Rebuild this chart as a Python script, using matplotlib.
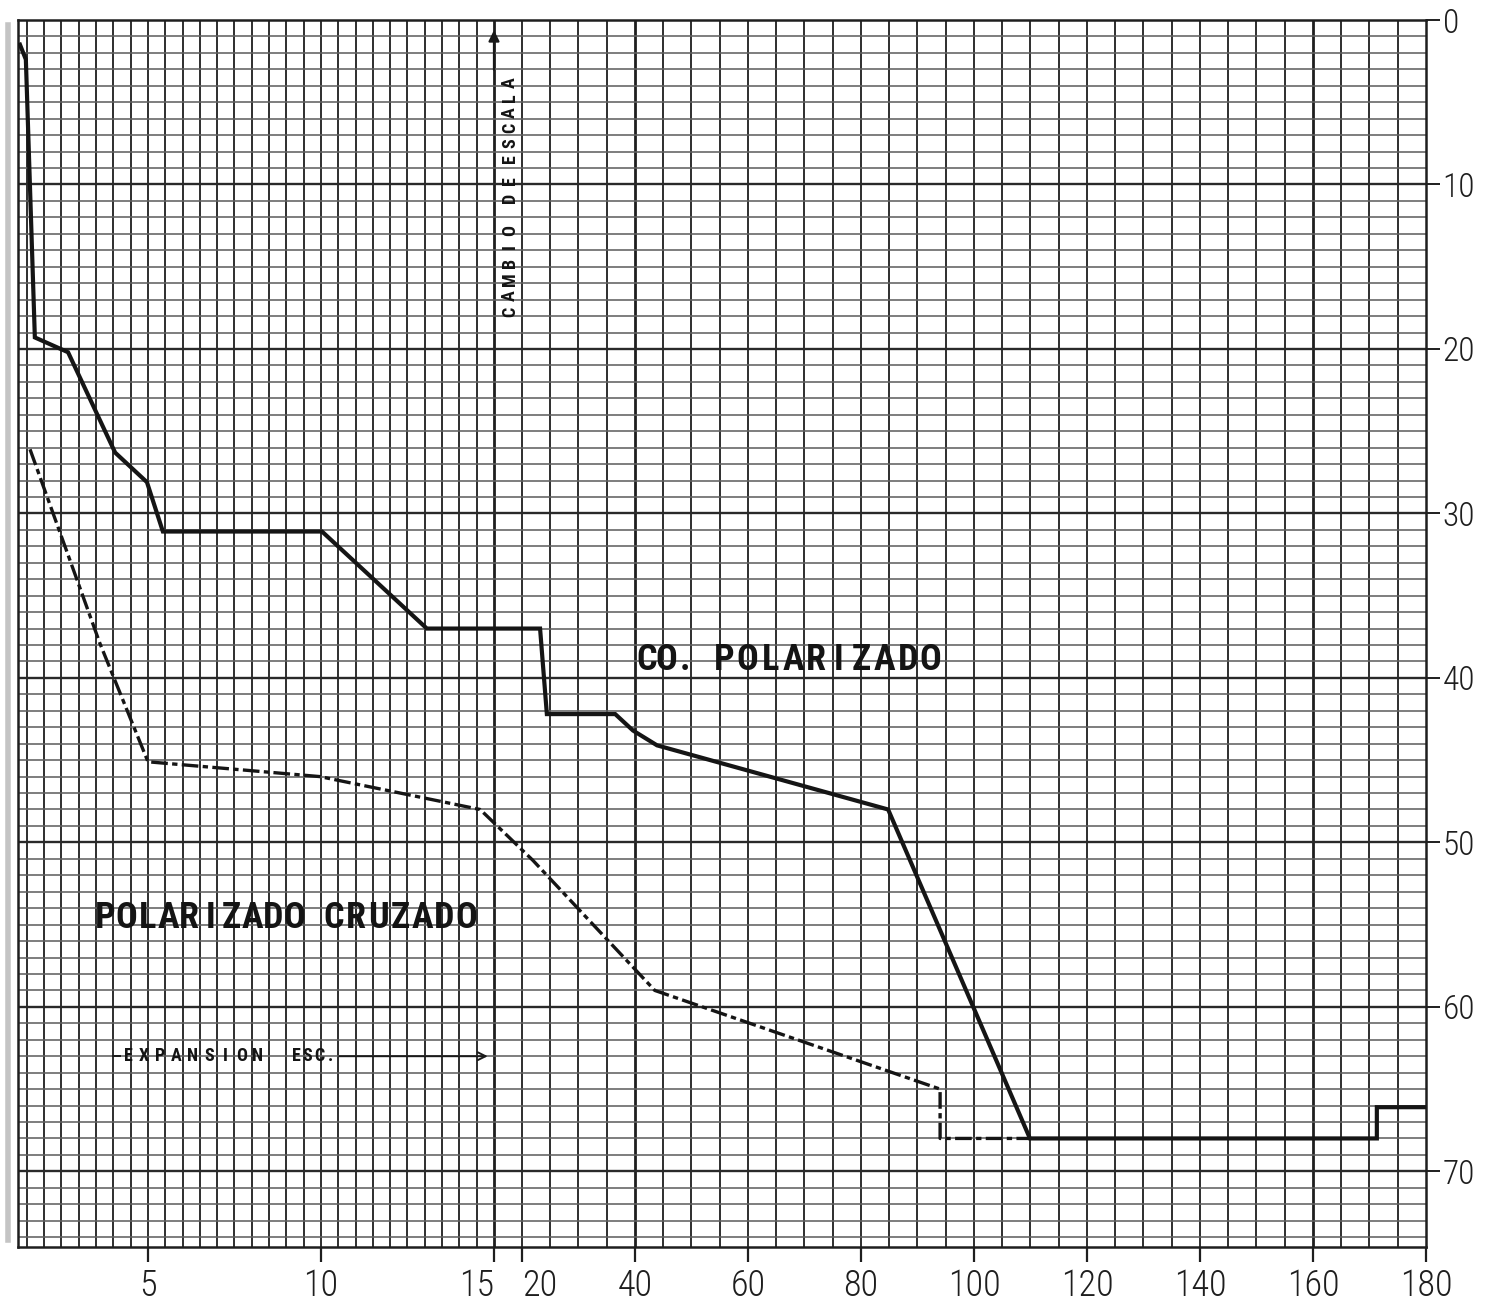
import numpy as np
import matplotlib
matplotlib.use("Agg")
import matplotlib.pyplot as plt
from matplotlib import font_manager
from matplotlib.transforms import offset_copy
from matplotlib.lines import Line2D

# ---------------------------------------------------------------- data
# Co-polarised pattern (dB below peak) vs. position
co_x = [1.30, 1.47, 1.73, 2.69, 4.05, 4.97, 5.43, 10.03, 13.06, 23.2, 24.4,
        36.5, 39.65, 43.9, 84.8, 109.9, 171.3, 171.3, 180.0]
co_y = [1.5, 2.4, 19.3, 20.2, 26.3, 28.1, 31.1, 31.1, 37.0, 37.0, 42.2,
        42.2, 43.2, 44.1, 48.0, 68.0, 68.0, 66.1, 66.1]

# Cross-polarised pattern
cx_x = [1.59, 3.61, 5.0, 9.97, 14.6, 21.95, 43.5, 94.0, 94.0, 109.9]
cx_y = [26.1, 37.9, 45.1, 46.0, 48.0, 51.1, 59.0, 65.0, 68.0, 68.0]

x_ticks = [5, 10, 15, 20, 40, 60, 80, 100, 120, 140, 160, 180]
x_ticklabels = ["5", "10", "15", "20", "40", "60", "80", "100", "120",
                "140", "160", "180"]
y_ticks = [0, 10, 20, 30, 40, 50, 60, 70]
y_ticklabels = ["0", "10", "20", "30", "40", "50", "60", "70"]

# ------------------------------------------------- broken x scale
# expanded scale up to 15, compressed scale from 20 on
BRK_LO, BRK_HI = 15.0, 20.0
K_LO, K_GAP, K_HI = 34.6, 5.6, 5.65
U_LO = BRK_LO * K_LO
U_HI = U_LO + (BRK_HI - BRK_LO) * K_GAP


def fwd(x):
    x = np.asarray(x, dtype=float)
    return np.where(x <= BRK_LO, x * K_LO,
                    np.where(x <= BRK_HI, U_LO + (x - BRK_LO) * K_GAP,
                             U_HI + (x - BRK_HI) * K_HI))


def inv(u):
    u = np.asarray(u, dtype=float)
    return np.where(u <= U_LO, u / K_LO,
                    np.where(u <= U_HI, BRK_LO + (u - U_LO) / K_GAP,
                             BRK_HI + (u - U_HI) / K_HI))


names = {f.name for f in font_manager.fontManager.ttflist}
FONT = "DejaVu Sans"
for cand in ["Liberation Sans Narrow", "Roboto Condensed", "Roboto",
             "Liberation Sans"]:
    if cand in names:
        FONT = cand
        break

W, H = 1488, 1302
fig = plt.figure(figsize=(W / 100, H / 100), dpi=100)
fig.patch.set_facecolor("white")
ax = fig.add_axes([18 / W, 1 - 1247 / H, 1408 / W, 1227 / H])
ax.set_xscale("function", functions=(fwd, inv))
ax.set_xlim(1.243, 180)
ax.set_ylim(74.6, 0)

# ------------------------------------------------------ graph paper
v_lines = list(np.arange(1.5, 15.01, 0.5)) + list(np.arange(20, 180, 5))
for xv in v_lines:
    heavy = xv in (15, 40, 160)
    ax.axvline(xv, color="#1e1e1e", lw=2.0 if heavy else 1.3, zorder=1)
for yv in range(1, 75):
    heavy = yv % 10 == 0
    ax.axhline(yv, color="#2a2a2a" if heavy else "#606060",
               lw=1.7 if heavy else 1.15, zorder=1)

for sp in ax.spines.values():
    sp.set_color("#1e1e1e")
    sp.set_linewidth(1.8)

# ---------------------------------------------------------- curves
ax.plot(co_x, co_y, color="#151515", lw=3.0, solid_joinstyle="miter",
        zorder=4)
ax.plot(cx_x, cx_y, color="#151515", lw=2.4, dashes=[5.0, 1.3, 1.6, 1.3],
        zorder=4)

# ----------------------------------------------------------- ticks
ax.set_xticks(x_ticks)
ax.set_xticklabels(x_ticklabels)
ax.xaxis.set_minor_locator(matplotlib.ticker.NullLocator())
ax.tick_params(axis="x", direction="out", length=11, width=1.6,
               color="#1e1e1e", pad=4, labelsize=26, labelcolor="#1e1e1e")
ax.yaxis.tick_right()
ax.set_yticks(y_ticks)
ax.set_yticklabels(y_ticklabels)
ax.tick_params(axis="y", direction="out", length=10, width=1.4,
               color="#1e1e1e", pad=2, labelsize=24, labelcolor="#1e1e1e")
for lab in ax.get_xticklabels() + ax.get_yticklabels():
    lab.set_family(FONT)
    lab.set_fontweight("light")
xlabs = ax.get_xticklabels()
xlabs[2].set_ha("right")   # "15" sits left of the scale change
xlabs[3].set_ha("left")    # "20" sits right of it


# ------------------------------------------------------- lettering
def spaced(x, y, s, pitch_pt, size, vertical=False, weight="bold"):
    for i, ch in enumerate(s):
        if vertical:
            tr = offset_copy(ax.transData, fig=fig, x=0, y=i * pitch_pt,
                             units="points")
        else:
            tr = offset_copy(ax.transData, fig=fig, x=i * pitch_pt, y=0,
                             units="points")
        ax.text(x, y, ch, transform=tr, ha="center", va="center",
                fontsize=size, family=FONT, fontweight=weight,
                color="#141414", rotation=90 if vertical else 0, zorder=5)


spaced(42.1, 38.9, "CO.", 13.7, 26, weight="heavy")
spaced(55.8, 38.9, "POLARIZADO", 16.5, 26, weight="heavy")
spaced(3.77, 54.6, "POLARIZADO", 15.1, 26, weight="heavy")
spaced(10.38, 54.6, "CRUZADO", 15.9, 26, weight="heavy")

spaced(4.42, 63.0, "EXPANSION", 11.7, 13)
spaced(9.28, 63.0, "ESC.", 8.3, 13)
ax.plot([3.99, 4.19], [63.0, 63.0], color="#1a1a1a", lw=1.4, zorder=5)
ax.annotate("", xy=(14.9, 63.0), xytext=(10.45, 63.0),
            arrowprops=dict(arrowstyle="->", color="#1a1a1a", lw=1.4,
                            mutation_scale=14), zorder=5)

spaced(17.86, 17.75, "CAMBIO", 11.8, 13, vertical=True)
spaced(17.86, 10.8, "DE", 12.2, 13, vertical=True)
spaced(17.86, 8.4, "ESCALA", 10.9, 13, vertical=True)
ax.annotate("", xy=(15, 0.45), xytext=(15, 3.2),
            arrowprops=dict(arrowstyle="-|>", color="#1a1a1a", lw=1.6,
                            mutation_scale=16), zorder=5)

# scanner margin along the left edge of the sheet
fig.add_artist(Line2D([8 / W, 8 / W], [1 - 1240 / H, 1 - 25 / H],
                      color="#c4c4c4", lw=4))

fig.savefig("out.png", dpi=100, facecolor="white")
